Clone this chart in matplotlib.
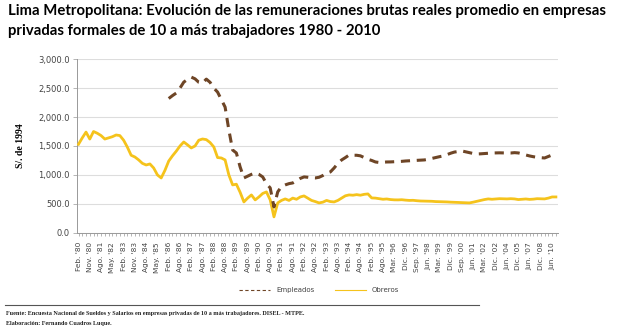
import matplotlib.pyplot as plt
import numpy as np

# tick labels (one every 3 survey points)
etiquetas = ["Feb. '80", "Nov. '80", "Ago. '81", "May. '82", "Feb. '83", "Nov. '83",
             "Ago. '84", "May. '85", "Feb. '86", "Ago. '86", "Feb. '87", "Ago. '87",
             "Feb. '88", "Ago. '88", "Feb. '89", "Ago. '89", "Feb. '90", "Ago. '90",
             "Feb. '91", "Ago. '91", "Feb. '92", "Ago. '92", "Feb. '93", "Ago. '93",
             "Feb. '94", "Ago. '94", "Feb. '95", "Ago. '95", "Mar. '96", "Dic. '96",
             "Sep. '97", "Jun. '98", "Mar. '99", "Dic. '99", "Sep. '00", "Jun. '01",
             "Mar. '02", "Dic. '02", "Jun. '04", "Dic. '05", "Jun. '07", "Dic. '08",
             "Jun. '10"]

obreros = [1530, 1640, 1740, 1620, 1750, 1720, 1680, 1620, 1640, 1660,
           1690, 1680, 1600, 1480, 1340, 1310, 1260, 1200, 1172, 1190,
           1120, 1000, 948, 1080, 1240, 1330, 1410, 1500, 1569, 1520,
           1466, 1500, 1600, 1621, 1610, 1560, 1483, 1300, 1293, 1259,
           1000, 828, 840, 700, 534, 600, 655, 569, 620, 680,
           707, 569, 276, 517, 560, 586, 560, 600, 580, 620,
           638, 600, 560, 540, 517, 530, 560, 540, 534, 560,
           600, 640, 655, 650, 660, 650, 665, 672, 603, 600,
           590, 580, 585, 575, 570, 569, 572, 565, 560, 562,
           555, 550, 548, 545, 545, 540, 538, 536, 534, 530,
           528, 525, 522, 520, 517, 530, 545, 560, 575, 586,
           580, 585, 590, 588, 586, 590, 586, 575, 580, 585,
           578, 582, 590, 588, 586, 600, 620, 620]

nan = np.nan
empleados = [nan] * 24 + [
           2320, 2370, 2414, 2500, 2603, 2650,
           2690, 2660, 2600, 2586, 2655, 2600, 2500, 2431, 2300, 2172,
           1776, 1431, 1379, 1138, 948, 980, 1010, 1034, 1010, 966,
           850, 776, 448, 707, 800, 828, 850, 862, 900, 940,
           966, 960, 950, 948, 960, 990, 1030, 1052, 1120, 1200,
           1259, 1300, 1345, 1340, 1340, 1330, 1300, 1270, 1250, 1224,
           1215, 1220, 1224, 1225, 1228, 1232, 1235, 1241, 1245, 1250,
           1252, 1255, 1259, 1270, 1285, 1300, 1315, 1328, 1350, 1375,
           1395, 1405, 1414, 1400, 1385, 1370, 1362, 1365, 1370, 1375,
           1379, 1380, 1382, 1380, 1379, 1379, 1385, 1380, 1365, 1345,
           1328, 1315, 1305, 1298, 1293, 1320, 1345, 1345]

x = np.arange(len(obreros))

fig = plt.figure(figsize=(6.26, 3.36), dpi=100)
ax = fig.add_axes([0.123, 0.307, 0.768, 0.517])

ax.plot(x, obreros, color='#f5c31c', lw=2, label='Obreros', zorder=3)
ax.plot(x, empleados, color='#6e4526', lw=2.2, ls=(0, (3, 2.2)), label='Empleados', zorder=4)

ax.set_ylim(0, 3000)
ax.set_xlim(-0.4, len(obreros) - 0.5)
ax.set_yticks(np.arange(0, 3001, 500))
ax.set_yticklabels([f"{v:,.1f}" for v in np.arange(0, 3001, 500)], fontsize=6, color='#444444')
ax.grid(axis='y', color='#dddddd', lw=0.8)
ax.set_axisbelow(True)

ax.set_xticks(x[::3])
ax.set_xticklabels(etiquetas, rotation=90, fontsize=5.3, color='#444444')
ax.set_xticks(x, minor=True)
ax.tick_params(axis='x', which='both', length=2.5, width=0.5, color='#999999', pad=4)
ax.tick_params(axis='y', length=3, width=0.5, color='#999999', pad=2)

for s in ['top', 'right']:
    ax.spines[s].set_visible(False)
for s in ['left', 'bottom']:
    ax.spines[s].set_color('#999999')
    ax.spines[s].set_linewidth(0.7)

ax.set_ylabel('S/. de 1994', fontsize=7, fontweight='bold', family='Liberation Serif', labelpad=10)

h, l = ax.get_legend_handles_labels()
fig.legend(h[::-1], l[::-1], loc='center', bbox_to_anchor=(0.51, 0.137), ncol=2,
           fontsize=5, frameon=False, handlelength=4.5, columnspacing=3,
           labelcolor='#444444')
leg = fig.legends[0]
for line in leg.get_lines():
    line.set_linewidth(0.8)

fig.text(0.013, 0.988,
         "Lima Metropolitana: Evolución de las remuneraciones brutas reales promedio en empresas\n"
         "privadas formales de 10 a más trabajadores 1980 - 2010",
         fontsize=10.7, fontweight='bold', family='Lato', va='top', ha='left',
         linespacing=1.5)

fig.add_artist(plt.Line2D([0.008, 0.765], [0.091, 0.091], color='#555555', lw=0.8))
fig.text(0.01, 0.068, "Fuente: Encuesta Nacional de Sueldos y Salarios en empresas privadas de 10 a más trabajadores. DISEL - MTPE.",
         fontsize=4.4, family='Liberation Serif', fontweight='bold', va='center', color='#222222')
fig.text(0.01, 0.036, "Elaboración: Fernando Cuadros Luque.",
         fontsize=4.4, family='Liberation Serif', fontweight='bold', va='center', color='#222222')

fig.savefig('out.png', dpi=100)
